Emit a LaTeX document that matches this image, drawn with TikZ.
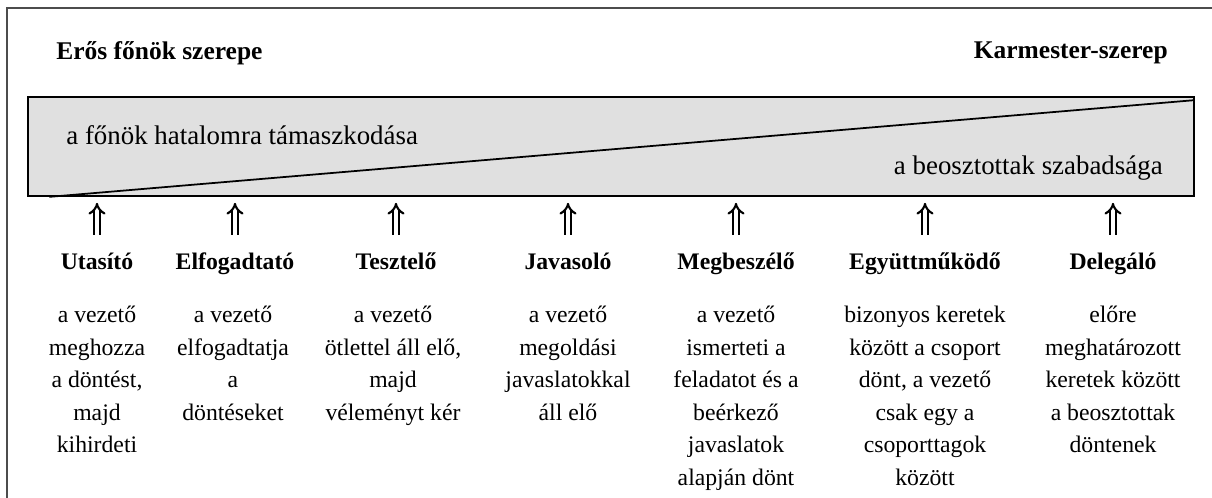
\documentclass[tikz,border=0pt]{standalone}
\usepackage{fontspec}
\setmainfont{Liberation Serif}
\usetikzlibrary{arrows.meta}

\begin{document}
\begin{tikzpicture}[x=0.02cm, y=-0.02cm,
  every node/.style={inner sep=0pt, font=\fontsize{13.5}{18.5}\selectfont},
  endlabel/.style={font=\fontsize{14.5}{17}\selectfont\bfseries},
  barlabel/.style={font=\fontsize{15.3}{18}\selectfont},
  rolename/.style={font=\fontsize{13.5}{17}\selectfont\bfseries, text height=10pt, text depth=3pt},
  roledesc/.style={align=center, anchor=north},
  scalebar/.style={draw, line width=1pt, fill=black!12, minimum width=23.32cm, minimum height=1.98cm},
  liftarrow/.style={double, double distance=2pt, line width=1.2pt, -{Implies[length=5pt, width=9pt]}, shorten <=9.4pt, shorten >=3.4pt}]

  \useasboundingbox (0,0) rectangle (1212,497);
  \draw[line width=1.2pt, black!70] (7,540) -- (7,8) -- (1240,8);

  % the scale
  \node[scalebar] (bar) at (611,146.5) {};
  \draw[line width=1pt] ([xshift=0.44cm]bar.south west) -- ([yshift=-0.08cm]bar.north east);
  \node[barlabel, anchor=west] (power) at (66,135) {a főnök hatalomra támaszkodása};
  \node[barlabel, anchor=east] (freedom) at (1163,168) {a beosztottak szabadsága};

  % the two ends
  \node[endlabel, anchor=west] (boss) at (56,53) {Erős főnök szerepe};
  \node[endlabel, anchor=east] (conductor) at (1168,53) {Karmester-szerep};

  % roles
  \node[rolename] (r1) at (97,263) {Utasító};
  \node[rolename] (r2) at (235,263) {Elfogadtató};
  \node[rolename] (r3) at (396,263) {Tesztelő};
  \node[rolename] (r4) at (568,263) {Javasoló};
  \node[rolename] (r5) at (736,263) {Megbeszélő};
  \node[rolename] (r6) at (925,263) {Együttműködő};
  \node[rolename] (r7) at (1113,263) {Delegáló};

  % arrows
  \foreach \i in {1,...,7}
    \draw[liftarrow] (r\i) -- (r\i |- bar.south);

  % what the leader does
  \node[roledesc] (d1) at (97,306) {a vezető\\meghozza\\a döntést,\\majd\\kihirdeti};
  \node[roledesc] (d2) at (233,306) {a vezető\\elfogadtatja\\a\\döntéseket};
  \node[roledesc] (d3) at (393,306) {a vezető\\ötlettel áll elő,\\majd\\véleményt kér};
  \node[roledesc] (d4) at (568,306) {a vezető\\megoldási\\javaslatokkal\\áll elő};
  \node[roledesc] (d5) at (736,306) {a vezető\\ismerteti a\\feladatot és a\\beérkező\\javaslatok\\alapján dönt};
  \node[roledesc] (d6) at (925,306) {bizonyos keretek\\között a csoport\\dönt, a vezető\\csak egy a\\csoporttagok\\között};
  \node[roledesc] (d7) at (1113,306) {előre\\meghatározott\\keretek között\\a beosztottak\\döntenek};

\end{tikzpicture}
\end{document}
